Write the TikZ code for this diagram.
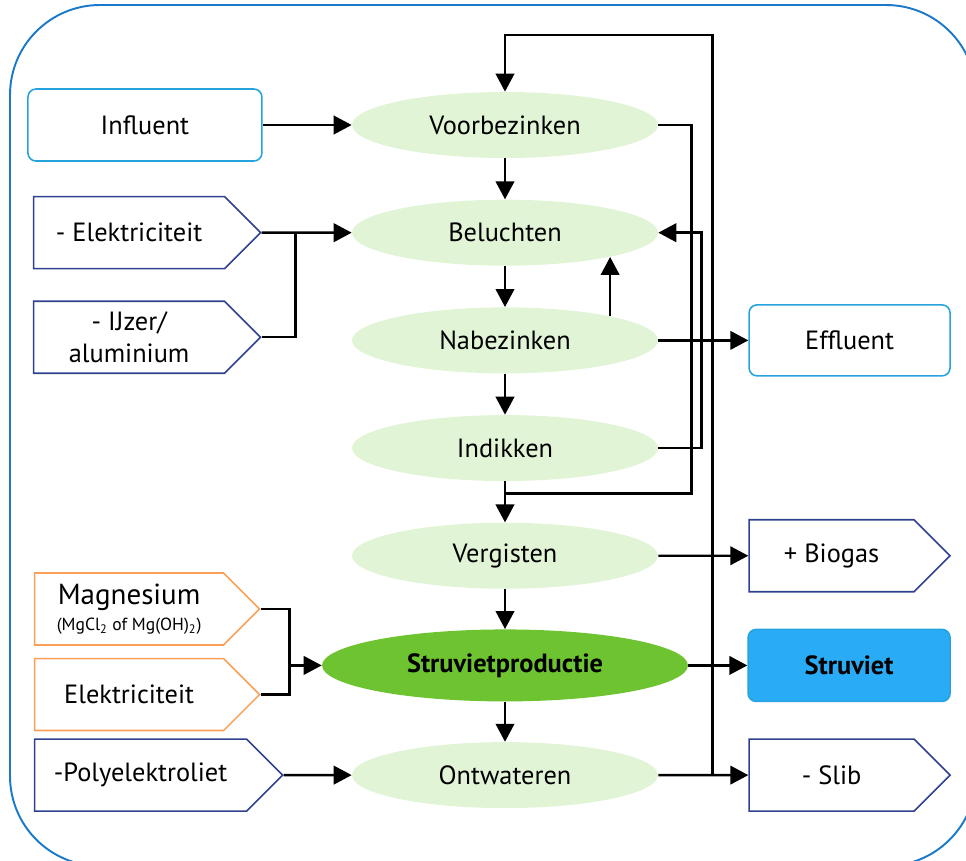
\documentclass[tikz,border=0pt]{standalone}
\usepackage{fontspec}
\setmainfont{PT Sans}
\usepackage{tikz}
\usetikzlibrary{shapes,arrows.meta,positioning,calc}
\definecolor{frameblue}{RGB}{26,122,201}
\definecolor{streamblue}{RGB}{38,163,221}
\definecolor{navy}{RGB}{47,64,145}
\definecolor{orange}{RGB}{248,160,88}
\definecolor{palegreen}{RGB}{225,244,214}
\definecolor{green}{RGB}{110,196,48}
\definecolor{struvblue}{RGB}{42,171,246}
\tikzstyle{process} = [ellipse, fill=palegreen, text=black, minimum width=6.12cm, minimum height=1.32cm, font=\fontsize{15}{18}\selectfont]
\tikzstyle{mainprocess} = [process, fill=green, minimum width=7.32cm, minimum height=1.44cm, font=\fontsize{15}{18}\selectfont\bfseries]
\tikzstyle{stream} = [rectangle, rounded corners=0.16cm, draw=streamblue, line width=0.9pt, text=black, minimum width=4.68cm, minimum height=1.44cm, font=\fontsize{15}{18}\selectfont]
\tikzstyle{resource} = [signal, signal to=east, signal pointer angle=90, draw=navy, line width=0.9pt, text=black, align=center, minimum width=4.54cm, minimum height=1.44cm, font=\fontsize{15}{18}\selectfont]
\tikzstyle{chemical} = [resource, draw=orange, minimum width=4.5cm]
\tikzstyle{tedge} = [draw, line width=1.4pt, -{Triangle[length=0.36cm,width=0.37cm]}]
\tikzstyle{tline} = [draw, line width=1.4pt]
\tikzstyle{frame} = [draw=frameblue, line width=1.1pt, rounded corners=1.8cm]

\begin{document}
\begin{tikzpicture}[x=0.02cm, y=-0.02cm]

\clip (0,0) rectangle (966,860);
\draw[frame] (10,5) rectangle (976,866);

% process line =============================
\node[process] (voor) at (505,125) {Voorbezinken};
\node[process, below=0.82cm of voor] (bel) {Beluchten};
\node[process, below=0.82cm of bel] (nabez) {Nabezinken};
\node[process, below=0.82cm of nabez] (indik) {Indikken};
\node[process, below=0.82cm of indik] (verg) {Vergisten};
\node[mainprocess, below=0.8cm of verg] (struv) {Struvietproductie};
\node[process, below=0.8cm of struv] (ontw) {Ontwateren};

% inputs
\node[stream, left=1.78cm of voor] (infl) {Influent};
\node[resource, left=1.8cm of bel] (elek) {- Elektriciteit};
\node[resource, below=0.62cm of elek] (ijzer) {- IJzer/\\aluminium};
\node[resource, left=1.36cm of ontw, minimum width=4.96cm] (poly) {-Polyelektroliet};
\node[chemical, above=0.14cm of poly, xshift=-0.23cm] (elek2) {Elektriciteit};
\node[chemical, above=0.24cm of elek2] (magn) {{\fontsize{16.5}{18}\selectfont Magnesium}\\[-3pt]{\fontsize{10}{11}\selectfont (MgCl\textsubscript{2} of Mg(OH)\textsubscript{2})}};

% outputs
\node[stream, right=1.8cm of nabez, minimum width=4.02cm, minimum height=1.42cm] (effl) {Effluent};
\node[resource, right=1.8cm of verg, minimum width=4.02cm] (biogas) {+ Biogas};
\node[stream, right=1.18cm of struv, minimum width=4.04cm, fill=struvblue, draw=streamblue, font=\fontsize{15}{18}\selectfont\bfseries] (struviet) {Struviet};
\node[resource, right=1.8cm of ontw, minimum width=4.02cm] (slib) {- Slib};

% junctions
\coordinate (dosing) at ($(bel.west)+(-56,0)$);
\coordinate (mixing) at ($(struv.west)+(-32,0)$);
\coordinate (sludge) at ($(indik.south)!0.3!(verg.north)$);

%edges
\path[tedge] (voor) -- (bel);
\path[tedge] (bel) -- (nabez);
\path[tedge] (nabez) -- (indik);
\path[tedge] (indik) -- (verg);
\path[tedge] (verg) -- (struv);
\path[tedge] (struv) -- (ontw);

\path[tedge] (infl) -- (voor);
\path[tedge] (elek) -- (bel);
\path[tline] (ijzer.east) -| (dosing);
\path[tline] (magn.east) -| (mixing);
\path[tline] (elek2.east) -| (mixing);
\path[tedge] (mixing) -- (struv);
\path[tedge] (poly) -- (ontw);

\path[tedge] (nabez) -- (effl);
\path[tedge] (verg) -- (biogas);
\path[tedge] (struv) -- (struviet);
\path[tedge] (ontw) -- (slib);

% return flows
\path[tedge] (nabez.13) -- (nabez.13 |- bel.-13);
\path[tline] (voor.east) -- ++(33,0) |- (sludge);
\path[tedge] (indik.east) -- ++(43,0) |- (bel.east);
\path[tedge] (ontw.east) ++(54,0) -- ++(0,-740) -| (voor.north);

\end{tikzpicture}
\end{document}
